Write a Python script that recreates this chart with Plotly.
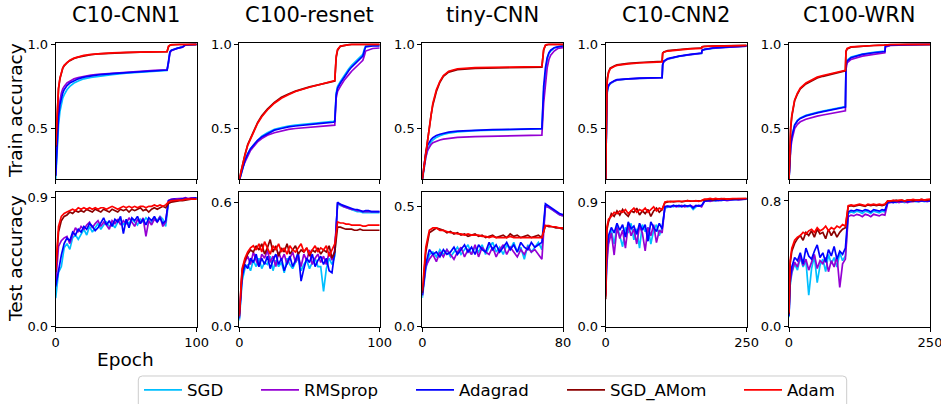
import plotly.graph_objects as go

FONT = "DejaVu Sans"
W, H = 941, 404

SERIES = ["SGD", "RMSprop", "Adagrad", "SGD_AMom", "Adam"]
COLORS = ["#00bfff", "#9400d3", "#0000ff", "#8b0000", "#ff0000"]
TITLES = ["C10-CNN1", "C100-resnet", "tiny-CNN", "C10-CNN2", "C100-WRN"]
X_MAX = [100, 100, 80, 250, 250]
X_TICKTEXT = ["100", "100", "80", "250", "250"]
TEST_YTOP = [0.938, 0.648, 0.558, 0.975, 0.855]
TEST_TICK = [0.9, 0.6, 0.5, 0.9, 0.8]
TEST_TICKTEXT = ["0.9", "0.6", "0.5", "0.9", "0.8"]
TRAIN_TICKS = [0.5, 1.0]
TRAIN_TICKTEXT = ["0.5", "1.0"]

# ---------------- C10-CNN1 ----------------
c10cnn1_train_epoch = [0, 1, 2, 3, 4, 5, 6, 8, 10, 13, 16, 20, 25, 30, 40, 50, 60, 70, 79, 80, 81, 82, 84, 86, 88, 90, 92, 95, 100]
c10cnn1_train_sgd = [0.20, 0.40, 0.52, 0.60, 0.65, 0.68, 0.70, 0.73, 0.75, 0.77, 0.782, 0.795, 0.803, 0.81, 0.82, 0.828, 0.835, 0.841, 0.845, 0.89, 0.952, 0.963, 0.971, 0.976, 0.980, 0.985, 0.997, 0.999, 1.0]
c10cnn1_train_rmsprop = [0.22, 0.50, 0.62, 0.68, 0.71, 0.735, 0.75, 0.77, 0.782, 0.795, 0.803, 0.811, 0.817, 0.822, 0.829, 0.835, 0.840, 0.845, 0.848, 0.89, 0.95, 0.962, 0.97, 0.975, 0.979, 0.983, 0.996, 0.999, 1.0]
c10cnn1_train_adagrad = [0.22, 0.45, 0.57, 0.64, 0.68, 0.71, 0.73, 0.755, 0.77, 0.785, 0.795, 0.805, 0.812, 0.818, 0.826, 0.832, 0.838, 0.843, 0.847, 0.90, 0.955, 0.965, 0.972, 0.976, 0.980, 0.984, 0.997, 0.999, 1.0]
c10cnn1_train_sgdamom = [0.39, 0.61, 0.735, 0.795, 0.832, 0.857, 0.872, 0.891, 0.903, 0.916, 0.924, 0.932, 0.938, 0.943, 0.948, 0.951, 0.953, 0.955, 0.956, 0.985, 0.995, 0.997, 0.999, 0.999, 1.0, 1.0, 1.0, 1.0, 1.0]
c10cnn1_train_adam = [0.40, 0.62, 0.74, 0.80, 0.835, 0.86, 0.875, 0.893, 0.905, 0.918, 0.926, 0.934, 0.940, 0.944, 0.949, 0.952, 0.954, 0.956, 0.957, 0.990, 0.996, 0.998, 0.999, 0.999, 1.0, 1.0, 1.0, 1.0, 1.0]

c10cnn1_test_epoch = list(range(0, 101, 2))
c10cnn1_test_sgd = [0.20, 0.38, 0.42, 0.55, 0.58, 0.54, 0.62, 0.64, 0.61, 0.65,
                    0.68, 0.64, 0.70, 0.66, 0.69, 0.72, 0.68, 0.71, 0.73, 0.70,
                    0.72, 0.69, 0.73, 0.75, 0.71, 0.74, 0.72, 0.75, 0.73, 0.71,
                    0.75, 0.73, 0.76, 0.74, 0.72, 0.76, 0.74, 0.77, 0.75, 0.70,
                    0.87, 0.88, 0.885, 0.885, 0.89, 0.89, 0.89, 0.895, 0.895, 0.895, 0.90]
c10cnn1_test_rmsprop = [0.30, 0.56, 0.60, 0.62, 0.63, 0.58, 0.64, 0.69, 0.66, 0.70,
                        0.68, 0.71, 0.73, 0.69, 0.72, 0.74, 0.70, 0.73, 0.71, 0.68,
                        0.74, 0.72, 0.75, 0.71, 0.74, 0.72, 0.76, 0.73, 0.70, 0.75,
                        0.72, 0.76, 0.63, 0.74, 0.71, 0.75, 0.73, 0.77, 0.70, 0.73,
                        0.88, 0.89, 0.89, 0.89, 0.895, 0.895, 0.90, 0.895, 0.90, 0.90, 0.90]
c10cnn1_test_adagrad = [0.28, 0.40, 0.50, 0.58, 0.62, 0.60, 0.66, 0.64, 0.68, 0.66,
                        0.70, 0.68, 0.72, 0.70, 0.67, 0.69, 0.73, 0.76, 0.71, 0.74,
                        0.70, 0.75, 0.73, 0.77, 0.65, 0.75, 0.69, 0.76, 0.74, 0.77,
                        0.72, 0.75, 0.71, 0.76, 0.74, 0.77, 0.73, 0.76, 0.72, 0.74,
                        0.88, 0.885, 0.89, 0.885, 0.89, 0.89, 0.895, 0.89, 0.895, 0.895, 0.90]
c10cnn1_test_sgdamom = [0.38, 0.66, 0.74, 0.77, 0.78, 0.80, 0.79, 0.81, 0.80, 0.81,
                        0.80, 0.82, 0.81, 0.80, 0.82, 0.81, 0.80, 0.82, 0.81, 0.80,
                        0.82, 0.81, 0.80, 0.82, 0.81, 0.82, 0.80, 0.82, 0.81, 0.82,
                        0.83, 0.81, 0.82, 0.80, 0.82, 0.83, 0.82, 0.83, 0.84, 0.83,
                        0.86, 0.87, 0.875, 0.88, 0.88, 0.88, 0.885, 0.885, 0.89, 0.89, 0.89]
c10cnn1_test_adam = [0.40, 0.70, 0.77, 0.79, 0.80, 0.81, 0.82, 0.81, 0.83, 0.82,
                     0.83, 0.82, 0.83, 0.82, 0.83, 0.82, 0.83, 0.83, 0.82, 0.83,
                     0.84, 0.83, 0.82, 0.83, 0.84, 0.83, 0.84, 0.83, 0.84, 0.83,
                     0.84, 0.84, 0.83, 0.84, 0.84, 0.85, 0.84, 0.85, 0.84, 0.85,
                     0.87, 0.88, 0.88, 0.88, 0.885, 0.885, 0.89, 0.89, 0.89, 0.89, 0.89]

# ---------------- C100-resnet ----------------
c100resnet_train_epoch = [0, 1, 2, 4, 6, 8, 10, 13, 16, 20, 25, 30, 35, 40, 50, 60, 67, 68, 69, 70, 72, 75, 78, 80, 85, 88, 89, 90, 95, 100]
c100resnet_train_sgd = [0.19, 0.22, 0.26, 0.31, 0.35, 0.38, 0.40, 0.43, 0.455, 0.475, 0.495, 0.505, 0.515, 0.52, 0.53, 0.537, 0.542, 0.545, 0.71, 0.75, 0.78, 0.82, 0.855, 0.875, 0.915, 0.94, 0.97, 0.99, 0.993, 0.993]
c100resnet_train_rmsprop = [0.19, 0.22, 0.26, 0.30, 0.34, 0.37, 0.39, 0.42, 0.44, 0.46, 0.475, 0.485, 0.495, 0.50, 0.508, 0.514, 0.518, 0.52, 0.68, 0.72, 0.75, 0.79, 0.82, 0.84, 0.88, 0.905, 0.93, 0.96, 0.975, 0.978]
c100resnet_train_adagrad = [0.19, 0.22, 0.26, 0.31, 0.35, 0.38, 0.40, 0.43, 0.45, 0.47, 0.49, 0.50, 0.51, 0.515, 0.525, 0.532, 0.537, 0.54, 0.70, 0.74, 0.77, 0.81, 0.845, 0.865, 0.905, 0.93, 0.96, 0.985, 0.99, 0.99]
c100resnet_train_sgdamom = [0.20, 0.24, 0.28, 0.345, 0.405, 0.445, 0.485, 0.535, 0.575, 0.615, 0.655, 0.685, 0.705, 0.722, 0.747, 0.767, 0.778, 0.782, 0.92, 0.965, 0.988, 0.995, 0.998, 1.0, 1.0, 1.0, 1.0, 1.0, 1.0, 1.0]
c100resnet_train_adam = [0.20, 0.24, 0.28, 0.34, 0.40, 0.44, 0.48, 0.53, 0.57, 0.61, 0.65, 0.68, 0.70, 0.72, 0.745, 0.765, 0.78, 0.785, 0.93, 0.97, 0.99, 0.995, 1.0, 1.0, 1.0, 1.0, 1.0, 1.0, 1.0, 1.0]

c100resnet_test_epoch = list(range(0, 101, 2))
c100resnet_test_sgd = [0.03, 0.22, 0.28, 0.30, 0.27, 0.32, 0.29, 0.33, 0.28, 0.31,
                       0.30, 0.34, 0.27, 0.32, 0.29, 0.31, 0.26, 0.33, 0.30, 0.28,
                       0.31, 0.33, 0.27, 0.30, 0.32, 0.28, 0.31, 0.33, 0.29, 0.29,
                       0.17, 0.28, 0.33, 0.30, 0.34, 0.595, 0.585, 0.58, 0.575, 0.57,
                       0.565, 0.56, 0.555, 0.555, 0.55, 0.55, 0.55, 0.55, 0.55, 0.55, 0.55]
c100resnet_test_rmsprop = [0.05, 0.26, 0.31, 0.34, 0.30, 0.36, 0.32, 0.29, 0.35, 0.33,
                           0.37, 0.31, 0.34, 0.29, 0.36, 0.32, 0.35, 0.30, 0.33, 0.36,
                           0.31, 0.34, 0.29, 0.35, 0.32, 0.37, 0.30, 0.33, 0.35, 0.31,
                           0.34, 0.30, 0.36, 0.32, 0.37, 0.595, 0.59, 0.58, 0.575, 0.57,
                           0.565, 0.565, 0.56, 0.56, 0.555, 0.555, 0.555, 0.555, 0.555, 0.555, 0.555]
c100resnet_test_adagrad = [0.04, 0.24, 0.30, 0.28, 0.33, 0.31, 0.35, 0.29, 0.33, 0.30,
                           0.34, 0.28, 0.32, 0.35, 0.30, 0.33, 0.27, 0.31, 0.34, 0.29,
                           0.32, 0.36, 0.22, 0.28, 0.33, 0.31, 0.35, 0.29, 0.32, 0.34,
                           0.30, 0.33, 0.27, 0.26, 0.36, 0.60, 0.59, 0.585, 0.58, 0.575,
                           0.57, 0.565, 0.565, 0.56, 0.555, 0.56, 0.56, 0.555, 0.555, 0.555, 0.555]
c100resnet_test_sgdamom = [0.06, 0.27, 0.32, 0.35, 0.37, 0.36, 0.39, 0.37, 0.40, 0.35,
                           0.38, 0.42, 0.36, 0.39, 0.34, 0.38, 0.36, 0.40, 0.35, 0.37,
                           0.39, 0.35, 0.37, 0.36, 0.38, 0.34, 0.37, 0.36, 0.38, 0.35,
                           0.37, 0.36, 0.39, 0.33, 0.36, 0.48, 0.48, 0.475, 0.47, 0.47,
                           0.47, 0.465, 0.465, 0.47, 0.465, 0.465, 0.465, 0.465, 0.465, 0.465, 0.465]
c100resnet_test_adam = [0.05, 0.28, 0.33, 0.36, 0.38, 0.39, 0.37, 0.40, 0.36, 0.41,
                        0.38, 0.35, 0.39, 0.37, 0.40, 0.36, 0.38, 0.35, 0.39, 0.37,
                        0.36, 0.38, 0.40, 0.36, 0.38, 0.35, 0.37, 0.39, 0.36, 0.38,
                        0.37, 0.39, 0.34, 0.37, 0.40, 0.505, 0.50, 0.50, 0.495, 0.495,
                        0.49, 0.49, 0.49, 0.49, 0.485, 0.485, 0.49, 0.49, 0.49, 0.49, 0.49]

# ---------------- tiny-CNN ----------------
tinycnn_train_epoch = [0, 1, 2, 3, 4, 5, 6, 7, 8, 10, 12, 15, 20, 30, 40, 50, 60, 68, 69, 70, 71, 72, 73, 75, 77, 80]
tinycnn_train_sgd = [0.19, 0.27, 0.33, 0.37, 0.40, 0.42, 0.432, 0.44, 0.447, 0.457, 0.465, 0.472, 0.48, 0.487, 0.491, 0.494, 0.496, 0.498, 0.72, 0.84, 0.91, 0.945, 0.96, 0.978, 0.985, 0.99]
tinycnn_train_rmsprop = [0.20, 0.28, 0.33, 0.37, 0.39, 0.405, 0.415, 0.42, 0.425, 0.432, 0.437, 0.442, 0.447, 0.452, 0.455, 0.457, 0.459, 0.461, 0.65, 0.78, 0.86, 0.91, 0.935, 0.96, 0.975, 0.98]
tinycnn_train_adagrad = [0.20, 0.30, 0.36, 0.40, 0.42, 0.435, 0.445, 0.452, 0.458, 0.466, 0.472, 0.478, 0.484, 0.49, 0.493, 0.495, 0.497, 0.499, 0.75, 0.86, 0.92, 0.95, 0.965, 0.98, 0.985, 0.99]
tinycnn_train_sgdamom = [0.20, 0.28, 0.37, 0.45, 0.52, 0.58, 0.64, 0.68, 0.72, 0.775, 0.81, 0.835, 0.85, 0.857, 0.86, 0.862, 0.863, 0.864, 0.965, 0.993, 0.999, 1.0, 1.0, 1.0, 1.0, 1.0]
tinycnn_train_adam = [0.20, 0.28, 0.37, 0.45, 0.52, 0.58, 0.65, 0.69, 0.73, 0.78, 0.815, 0.84, 0.855, 0.862, 0.864, 0.866, 0.867, 0.868, 0.97, 0.995, 1.0, 1.0, 1.0, 1.0, 1.0, 1.0]

tinycnn_test_epoch = list(range(0, 81, 2))
tinycnn_test_sgd = [0.12, 0.24, 0.30, 0.31, 0.29, 0.32, 0.30, 0.32, 0.29, 0.31,
                    0.33, 0.30, 0.32, 0.34, 0.30, 0.33, 0.31, 0.34, 0.30, 0.33,
                    0.35, 0.31, 0.33, 0.30, 0.34, 0.32, 0.35, 0.31, 0.33, 0.28,
                    0.34, 0.31, 0.33, 0.35, 0.32, 0.50, 0.495, 0.485, 0.475, 0.465, 0.46]
tinycnn_test_rmsprop = [0.13, 0.25, 0.28, 0.30, 0.27, 0.31, 0.29, 0.32, 0.30, 0.28,
                        0.31, 0.33, 0.29, 0.32, 0.30, 0.34, 0.29, 0.33, 0.31, 0.30,
                        0.33, 0.29, 0.32, 0.34, 0.30, 0.33, 0.31, 0.29, 0.32, 0.30,
                        0.33, 0.31, 0.32, 0.30, 0.28, 0.50, 0.495, 0.485, 0.475, 0.465, 0.46]
tinycnn_test_adagrad = [0.13, 0.26, 0.32, 0.30, 0.31, 0.29, 0.32, 0.30, 0.31, 0.33,
                        0.30, 0.32, 0.34, 0.31, 0.33, 0.30, 0.34, 0.32, 0.31, 0.35,
                        0.32, 0.34, 0.31, 0.33, 0.35, 0.32, 0.34, 0.31, 0.35, 0.33,
                        0.32, 0.35, 0.33, 0.34, 0.35, 0.51, 0.50, 0.49, 0.48, 0.47, 0.465]
tinycnn_test_sgdamom = [0.14, 0.31, 0.39, 0.40, 0.41, 0.405, 0.40, 0.39, 0.395, 0.385,
                        0.39, 0.38, 0.385, 0.375, 0.38, 0.385, 0.375, 0.38, 0.37, 0.375,
                        0.38, 0.37, 0.375, 0.38, 0.37, 0.385, 0.375, 0.38, 0.37, 0.375,
                        0.38, 0.37, 0.375, 0.38, 0.37, 0.42, 0.415, 0.415, 0.41, 0.41, 0.405]
tinycnn_test_adam = [0.15, 0.33, 0.40, 0.41, 0.41, 0.40, 0.40, 0.395, 0.39, 0.39,
                     0.385, 0.385, 0.38, 0.385, 0.38, 0.38, 0.38, 0.375, 0.375, 0.37,
                     0.375, 0.37, 0.37, 0.37, 0.37, 0.375, 0.37, 0.37, 0.37, 0.37,
                     0.37, 0.37, 0.37, 0.37, 0.37, 0.42, 0.42, 0.415, 0.415, 0.41, 0.41]

# ---------------- C10-CNN2 ----------------
c10cnn2_train_epoch = [0, 1, 2, 3, 5, 8, 12, 16, 20, 30, 40, 60, 80, 99, 100, 101, 103, 110, 130, 150, 169, 170, 171, 175, 190, 210, 250]
c10cnn2_train_sgd = [0.20, 0.53, 0.68, 0.72, 0.75, 0.765, 0.776, 0.782, 0.787, 0.791, 0.794, 0.797, 0.799, 0.801, 0.801, 0.875, 0.897, 0.912, 0.928, 0.938, 0.946, 0.946, 0.963, 0.968, 0.976, 0.982, 0.989]
c10cnn2_train_rmsprop = [0.20, 0.56, 0.69, 0.73, 0.755, 0.768, 0.778, 0.783, 0.788, 0.792, 0.795, 0.798, 0.80, 0.802, 0.802, 0.878, 0.898, 0.913, 0.929, 0.939, 0.947, 0.947, 0.964, 0.969, 0.977, 0.982, 0.989]
c10cnn2_train_adagrad = [0.20, 0.55, 0.69, 0.73, 0.755, 0.77, 0.78, 0.785, 0.79, 0.793, 0.796, 0.799, 0.801, 0.803, 0.803, 0.88, 0.90, 0.915, 0.93, 0.94, 0.948, 0.948, 0.965, 0.97, 0.978, 0.983, 0.99]
c10cnn2_train_sgdamom = [0.20, 0.63, 0.75, 0.80, 0.835, 0.858, 0.868, 0.873, 0.878, 0.883, 0.887, 0.892, 0.896, 0.899, 0.899, 0.948, 0.955, 0.962, 0.97, 0.975, 0.978, 0.978, 0.986, 0.988, 0.99, 0.992, 0.994]
c10cnn2_train_adam = [0.20, 0.62, 0.74, 0.79, 0.83, 0.855, 0.865, 0.87, 0.875, 0.88, 0.884, 0.889, 0.893, 0.896, 0.896, 0.945, 0.953, 0.96, 0.968, 0.973, 0.976, 0.976, 0.985, 0.987, 0.989, 0.991, 0.993]

c10cnn2_test_epoch = [0, 2] + list(range(5, 251, 5))
c10cnn2_test_sgd = [0.22, 0.50, 0.62, 0.70, 0.60, 0.73, 0.66, 0.58, 0.72, 0.68, 0.75,
                    0.63, 0.71, 0.57, 0.74, 0.69, 0.72, 0.60, 0.70, 0.74, 0.66, 0.72,
                    0.86, 0.87, 0.875, 0.87, 0.88, 0.87, 0.875, 0.88, 0.87, 0.875, 0.85, 0.87, 0.88, 0.875,
                    0.91, 0.91, 0.915, 0.915, 0.915, 0.92, 0.915, 0.92, 0.92, 0.92, 0.92, 0.925, 0.92, 0.925, 0.925, 0.925]
c10cnn2_test_rmsprop = [0.23, 0.45, 0.60, 0.68, 0.52, 0.72, 0.64, 0.70, 0.57, 0.74, 0.66,
                        0.71, 0.60, 0.73, 0.68, 0.55, 0.72, 0.66, 0.74, 0.61, 0.70, 0.68,
                        0.87, 0.875, 0.87, 0.88, 0.87, 0.875, 0.88, 0.87, 0.875, 0.88, 0.87, 0.875, 0.88, 0.87,
                        0.91, 0.915, 0.91, 0.915, 0.92, 0.915, 0.92, 0.92, 0.915, 0.92, 0.92, 0.925, 0.92, 0.925, 0.925, 0.925]
c10cnn2_test_adagrad = [0.24, 0.55, 0.66, 0.72, 0.68, 0.75, 0.70, 0.74, 0.65, 0.76, 0.71,
                        0.73, 0.67, 0.75, 0.70, 0.74, 0.62, 0.76, 0.72, 0.69, 0.75, 0.71,
                        0.87, 0.875, 0.87, 0.88, 0.875, 0.88, 0.87, 0.88, 0.875, 0.88, 0.86, 0.88, 0.875, 0.88,
                        0.91, 0.915, 0.915, 0.92, 0.915, 0.92, 0.92, 0.92, 0.92, 0.925, 0.92, 0.925, 0.925, 0.925, 0.925, 0.925]
c10cnn2_test_sgdamom = [0.20, 0.70, 0.76, 0.82, 0.80, 0.84, 0.81, 0.85, 0.82, 0.80, 0.84,
                        0.83, 0.86, 0.81, 0.84, 0.82, 0.85, 0.80, 0.84, 0.86, 0.83, 0.85,
                        0.90, 0.905, 0.91, 0.905, 0.91, 0.91, 0.905, 0.91, 0.915, 0.91, 0.91, 0.915, 0.91, 0.915,
                        0.92, 0.925, 0.925, 0.92, 0.925, 0.925, 0.93, 0.925, 0.925, 0.93, 0.925, 0.93, 0.93, 0.925, 0.93, 0.93]
c10cnn2_test_adam = [0.22, 0.72, 0.78, 0.80, 0.83, 0.82, 0.84, 0.83, 0.85, 0.82, 0.84,
                     0.86, 0.83, 0.85, 0.84, 0.86, 0.83, 0.85, 0.87, 0.84, 0.86, 0.85,
                     0.905, 0.91, 0.905, 0.91, 0.91, 0.905, 0.91, 0.91, 0.915, 0.91, 0.91, 0.915, 0.91, 0.915,
                     0.925, 0.925, 0.93, 0.925, 0.93, 0.925, 0.93, 0.93, 0.925, 0.93, 0.93, 0.93, 0.93, 0.93, 0.93, 0.93]

# ---------------- C100-WRN ----------------
c100wrn_train_epoch = [0, 1, 2, 3, 5, 8, 10, 15, 20, 30, 40, 50, 60, 80, 99, 100, 101, 103, 110, 130, 150, 169, 170, 171, 180, 210, 250]
c100wrn_train_sgd = [0.20, 0.27, 0.34, 0.40, 0.45, 0.50, 0.52, 0.548, 0.563, 0.578, 0.588, 0.596, 0.603, 0.615, 0.628, 0.63, 0.875, 0.905, 0.925, 0.942, 0.952, 0.96, 0.96, 0.99, 0.995, 0.998, 1.0]
c100wrn_train_rmsprop = [0.20, 0.27, 0.33, 0.38, 0.43, 0.48, 0.50, 0.525, 0.54, 0.555, 0.565, 0.573, 0.58, 0.592, 0.603, 0.605, 0.85, 0.89, 0.91, 0.93, 0.94, 0.95, 0.95, 0.985, 0.993, 0.997, 1.0]
c100wrn_train_adagrad = [0.20, 0.28, 0.35, 0.40, 0.45, 0.50, 0.52, 0.545, 0.56, 0.575, 0.585, 0.593, 0.60, 0.612, 0.625, 0.627, 0.87, 0.90, 0.92, 0.94, 0.95, 0.957, 0.957, 0.99, 0.995, 0.998, 1.0]
c100wrn_train_sgdamom = [0.20, 0.34, 0.44, 0.50, 0.57, 0.635, 0.665, 0.705, 0.735, 0.765, 0.785, 0.80, 0.81, 0.826, 0.84, 0.842, 0.955, 0.972, 0.983, 0.99, 0.993, 0.995, 0.995, 0.998, 0.999, 1.0, 1.0]
c100wrn_train_adam = [0.20, 0.35, 0.45, 0.51, 0.58, 0.64, 0.67, 0.71, 0.74, 0.77, 0.79, 0.805, 0.815, 0.83, 0.843, 0.845, 0.96, 0.975, 0.985, 0.99, 0.993, 0.995, 0.995, 0.998, 0.999, 1.0, 1.0]

c100wrn_test_epoch = [0, 2] + list(range(5, 251, 5))
c100wrn_test_sgd = [0.06, 0.26, 0.34, 0.40, 0.36, 0.44, 0.38, 0.42, 0.20, 0.37, 0.45,
                    0.28, 0.39, 0.43, 0.35, 0.46, 0.40, 0.44, 0.38, 0.47, 0.42, 0.45,
                    0.72, 0.73, 0.725, 0.735, 0.73, 0.72, 0.735, 0.73, 0.72, 0.735, 0.73, 0.725, 0.735, 0.73,
                    0.79, 0.79, 0.795, 0.79, 0.795, 0.795, 0.79, 0.795, 0.795, 0.80, 0.795, 0.795, 0.80, 0.795, 0.80, 0.80]
c100wrn_test_rmsprop = [0.07, 0.28, 0.35, 0.41, 0.38, 0.45, 0.39, 0.43, 0.36, 0.41, 0.46,
                        0.37, 0.42, 0.40, 0.44, 0.35, 0.42, 0.38, 0.45, 0.25, 0.40, 0.43,
                        0.70, 0.71, 0.705, 0.715, 0.71, 0.70, 0.715, 0.71, 0.70, 0.715, 0.71, 0.705, 0.715, 0.71,
                        0.785, 0.79, 0.79, 0.795, 0.79, 0.795, 0.795, 0.79, 0.795, 0.795, 0.80, 0.795, 0.80, 0.80, 0.795, 0.80]
c100wrn_test_adagrad = [0.07, 0.30, 0.38, 0.44, 0.42, 0.47, 0.40, 0.50, 0.45, 0.43, 0.48,
                        0.52, 0.44, 0.47, 0.41, 0.49, 0.45, 0.51, 0.43, 0.48, 0.46, 0.50,
                        0.73, 0.74, 0.735, 0.745, 0.74, 0.735, 0.745, 0.74, 0.73, 0.745, 0.74, 0.735, 0.745, 0.74,
                        0.79, 0.795, 0.79, 0.795, 0.80, 0.795, 0.80, 0.795, 0.80, 0.80, 0.80, 0.80, 0.80, 0.80, 0.80, 0.80]
c100wrn_test_sgdamom = [0.08, 0.40, 0.48, 0.53, 0.56, 0.58, 0.55, 0.60, 0.58, 0.61, 0.57,
                        0.62, 0.59, 0.60, 0.56, 0.62, 0.58, 0.61, 0.57, 0.60, 0.62, 0.63,
                        0.765, 0.77, 0.765, 0.77, 0.775, 0.77, 0.765, 0.775, 0.77, 0.775, 0.77, 0.775, 0.77, 0.775,
                        0.80, 0.80, 0.80, 0.805, 0.80, 0.805, 0.80, 0.805, 0.805, 0.80, 0.805, 0.805, 0.81, 0.805, 0.805, 0.81]
c100wrn_test_adam = [0.09, 0.42, 0.50, 0.55, 0.57, 0.58, 0.60, 0.59, 0.61, 0.62, 0.60,
                     0.63, 0.61, 0.62, 0.64, 0.61, 0.63, 0.62, 0.64, 0.63, 0.65, 0.64,
                     0.77, 0.775, 0.77, 0.775, 0.78, 0.775, 0.77, 0.78, 0.775, 0.78, 0.775, 0.78, 0.775, 0.78,
                     0.80, 0.80, 0.805, 0.80, 0.805, 0.805, 0.80, 0.805, 0.805, 0.81, 0.805, 0.805, 0.81, 0.805, 0.81, 0.81]

# ---------------- assemble ----------------
panels_train = [
    (c10cnn1_train_epoch, [c10cnn1_train_sgd, c10cnn1_train_rmsprop, c10cnn1_train_adagrad, c10cnn1_train_sgdamom, c10cnn1_train_adam]),
    (c100resnet_train_epoch, [c100resnet_train_sgd, c100resnet_train_rmsprop, c100resnet_train_adagrad, c100resnet_train_sgdamom, c100resnet_train_adam]),
    (tinycnn_train_epoch, [tinycnn_train_sgd, tinycnn_train_rmsprop, tinycnn_train_adagrad, tinycnn_train_sgdamom, tinycnn_train_adam]),
    (c10cnn2_train_epoch, [c10cnn2_train_sgd, c10cnn2_train_rmsprop, c10cnn2_train_adagrad, c10cnn2_train_sgdamom, c10cnn2_train_adam]),
    (c100wrn_train_epoch, [c100wrn_train_sgd, c100wrn_train_rmsprop, c100wrn_train_adagrad, c100wrn_train_sgdamom, c100wrn_train_adam]),
]
panels_test = [
    (c10cnn1_test_epoch, [c10cnn1_test_sgd, c10cnn1_test_rmsprop, c10cnn1_test_adagrad, c10cnn1_test_sgdamom, c10cnn1_test_adam]),
    (c100resnet_test_epoch, [c100resnet_test_sgd, c100resnet_test_rmsprop, c100resnet_test_adagrad, c100resnet_test_sgdamom, c100resnet_test_adam]),
    (tinycnn_test_epoch, [tinycnn_test_sgd, tinycnn_test_rmsprop, tinycnn_test_adagrad, tinycnn_test_sgdamom, tinycnn_test_adam]),
    (c10cnn2_test_epoch, [c10cnn2_test_sgd, c10cnn2_test_rmsprop, c10cnn2_test_adagrad, c10cnn2_test_sgdamom, c10cnn2_test_adam]),
    (c100wrn_test_epoch, [c100wrn_test_sgd, c100wrn_test_rmsprop, c100wrn_test_adagrad, c100wrn_test_sgdamom, c100wrn_test_adam]),
]

COL_PX = [(55.7, 196.7), (239.3, 379.7), (422.3, 563.0), (605.7, 746.7), (789.0, 930.0)]
TOP_PY = (43.3, 179.0)
BOT_PY = (192.3, 326.7)


def px(x):
    return x / W


def py(y):
    return 1 - y / H


fig = go.Figure()
layout = dict(
    width=W, height=H, margin=dict(l=0, r=0, t=0, b=0, autoexpand=False),
    paper_bgcolor="white", plot_bgcolor="white",
    font=dict(family=FONT, color="black"),
    showlegend=True,
)

LEGEND_X = [139, 256, 411, 562, 739]

for row, panels in enumerate([panels_train, panels_test]):
    for col, (epochs, series) in enumerate(panels):
        idx = row * 5 + col + 1
        xa = "x" if idx == 1 else f"x{idx}"
        ya = "y" if idx == 1 else f"y{idx}"
        for k, vals in enumerate(series):
            show = (row == 0 and col == 0)
            fig.add_trace(go.Scatter(
                x=epochs, y=vals, mode="lines", name=SERIES[k],
                line=dict(color=COLORS[k], width=1.7),
                xaxis=xa, yaxis=ya, showlegend=show,
                legend="legend" if k == 0 else f"legend{k + 1}",
            ))
        x0, x1 = COL_PX[col]
        y0, y1 = (TOP_PY if row == 0 else BOT_PY)
        axis_common = dict(showline=True, mirror=True, linecolor="black", linewidth=1,
                           ticks="outside", ticklen=4, tickwidth=1, tickcolor="black",
                           showgrid=False, zeroline=False, ticklabeloverflow="allow",
                           tickfont=dict(family=FONT, size=13, color="black"))
        xkey = "xaxis" if idx == 1 else f"xaxis{idx}"
        ykey = "yaxis" if idx == 1 else f"yaxis{idx}"
        layout[xkey] = dict(axis_common, domain=[px(x0), px(x1)], anchor=ya,
                            range=[0, X_MAX[col]], tickvals=[0, X_MAX[col]],
                            ticktext=["0", X_TICKTEXT[col]], showticklabels=(row == 1))
        if row == 0:
            layout[ykey] = dict(axis_common, domain=[py(y1), py(y0)], anchor=xa,
                                range=[0.2, 1.006], tickvals=TRAIN_TICKS, ticktext=TRAIN_TICKTEXT)
        else:
            layout[ykey] = dict(axis_common, domain=[py(y1), py(y0)], anchor=xa,
                                range=[0, TEST_YTOP[col]], tickvals=[0.0, TEST_TICK[col]],
                                ticktext=["0.0", TEST_TICKTEXT[col]])

for k in range(5):
    key = "legend" if k == 0 else f"legend{k + 1}"
    layout[key] = dict(x=px(LEGEND_X[k]), xanchor="left", y=py(390), yanchor="middle",
                       orientation="h", bgcolor="rgba(0,0,0,0)", borderwidth=0,
                       itemwidth=38, font=dict(family=FONT, size=16.6, color="black"))

annotations = []
for col in range(5):
    cx = (COL_PX[col][0] + COL_PX[col][1]) / 2
    annotations.append(dict(text=TITLES[col], x=px(cx), y=py(15), xref="paper", yref="paper",
                            xanchor="center", yanchor="middle", showarrow=False,
                            font=dict(family=FONT, size=21, color="black")))
annotations.append(dict(text="Train accuracy", x=px(15), y=py(111), xref="paper", yref="paper",
                        xanchor="center", yanchor="middle", textangle=-90, showarrow=False,
                        font=dict(family=FONT, size=18.5, color="black")))
annotations.append(dict(text="Test accuracy", x=px(15), y=py(259), xref="paper", yref="paper",
                        xanchor="center", yanchor="middle", textangle=-90, showarrow=False,
                        font=dict(family=FONT, size=18.5, color="black")))
annotations.append(dict(text="Epoch", x=px(126), y=py(359), xref="paper", yref="paper",
                        xanchor="center", yanchor="middle", showarrow=False,
                        font=dict(family=FONT, size=18.5, color="black")))
layout["annotations"] = annotations

# legend frame (rounded box)
bx0, bx1, by0, by1, r = 138.3, 846.7, 376.0, 420.0, 4.0


def pt(x, y):
    return f"{px(x):.5f},{py(y):.5f}"


path = (f"M {pt(bx0 + r, by0)} L {pt(bx1 - r, by0)} Q {pt(bx1, by0)} {pt(bx1, by0 + r)} "
        f"L {pt(bx1, by1)} L {pt(bx0, by1)} L {pt(bx0, by0 + r)} Q {pt(bx0, by0)} {pt(bx0 + r, by0)} Z")
layout["shapes"] = [dict(type="path", path=path, xref="paper", yref="paper",
                         line=dict(color="#cccccc", width=1), fillcolor="rgba(255,255,255,0.8)",
                         layer="below")]

fig.update_layout(**layout)
fig.write_html("out.html")
